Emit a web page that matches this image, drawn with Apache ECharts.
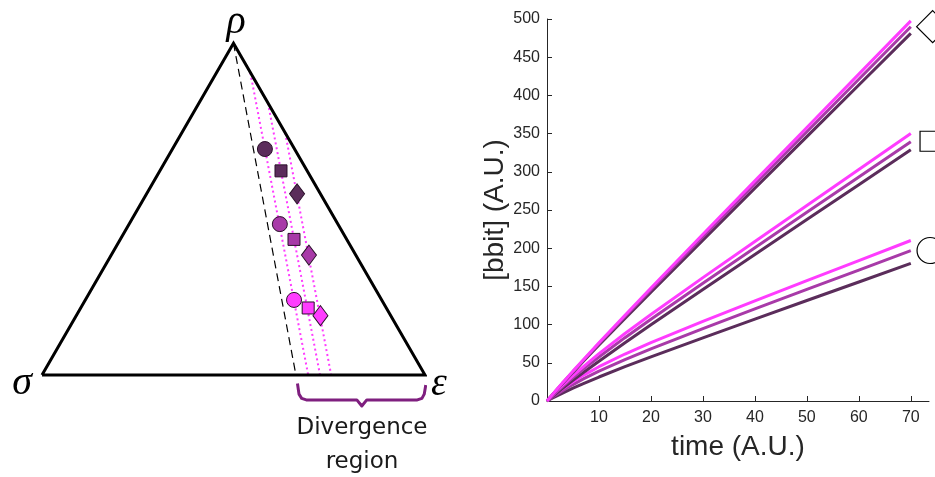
<!DOCTYPE html>
<html><head><meta charset="utf-8">
<script src="https://cdn.jsdelivr.net/npm/echarts@6/dist/echarts.min.js"></script>
<style>html,body{margin:0;padding:0;background:#fff}#c{width:935px;height:477px}</style>
</head><body><div id="c"></div>
<script>
// ---------- right panel data: [bbit] vs time ----------
const time = [0, 1, 2, 3, 5, 7, 10, 15, 20, 30, 40, 50, 60, 70];
const circleDark    = [0, 3.6, 7.1, 10.4, 16.8, 22.8, 31.4, 44.9, 57.8, 82.7, 107.1, 131.5, 155.8, 180.1];
const circleMid     = [0, 4.8, 9.3, 13.6, 21.5, 28.9, 39.0, 54.2, 68.2, 94.8, 120.5, 146.0, 171.4, 196.8];
const circleBright  = [0, 5.7, 11.0, 16.0, 25.2, 33.6, 44.9, 61.5, 76.5, 104.3, 131.0, 157.5, 183.8, 210.1];
const squareDark    = [0, 5.6, 11.1, 16.5, 27.0, 37.2, 52.1, 76.2, 99.7, 145.9, 191.7, 237.5, 283.2, 328.9];
const squareMid     = [0, 6.5, 12.8, 18.9, 30.5, 41.7, 57.6, 82.9, 107.1, 154.2, 200.7, 247.0, 293.2, 339.4];
const squareBright  = [0, 7.2, 14.0, 20.7, 33.3, 45.1, 62.0, 88.3, 113.3, 161.5, 208.9, 256.0, 303.0, 350.0];
const diamondDark   = [0, 7.7, 15.3, 22.8, 37.5, 52.0, 73.3, 108.2, 142.5, 210.6, 278.4, 346.0, 413.6, 481.2];
const diamondMid    = [0, 7.9, 15.7, 23.4, 38.5, 53.3, 75.1, 110.7, 145.7, 214.9, 283.7, 352.5, 421.2, 489.9];
const diamondBright = [0, 8.0, 16.0, 23.8, 39.1, 54.1, 76.2, 112.3, 147.9, 218.2, 288.1, 358.0, 427.8, 497.6];
const xTicks = [10, 20, 30, 40, 50, 60, 70];
const yTicks = [0, 50, 100, 150, 200, 250, 300, 350, 400, 450, 500];
// shape keys placed at the line ends: [time, value]
const keyDiamond = [[74.2, 490]];
const keySquare  = [[73.7, 340]];
const keyCircle  = [[73.7, 197]];

// ---------- left panel data: simplex diagram (unit equilateral triangle) ----------
const triangle = [[0, 0], [1, 0], [0.5, 0.866], [0, 0]];
const dashedLine = [[0.5, 0.866], [0.663, 0]];
const dotted1 = [[0.544, 0.789], [0.695, 0]];
const dotted2 = [[0.590, 0.710], [0.726, 0]];
const dotted3 = [[0.635, 0.632], [0.755, 0]];
// markers: dark, mid, bright
const circles  = [[0.582, 0.590], [0.621, 0.394], [0.658, 0.196]];
const squares  = [[0.624, 0.533], [0.658, 0.354], [0.695, 0.175]];
const diamonds = [[0.666, 0.473], [0.697, 0.313], [0.727, 0.155]];
const brace = [[0.667, -0.022], [0.671, -0.050], [0.678, -0.061], [0.690, -0.065], [0.822, -0.065], [0.835, -0.081],
               [0.848, -0.065], [0.980, -0.065], [0.992, -0.061], [0.998, -0.050], [1.002, -0.026]];
const vertexLabels = ['ρ', 'σ', 'ε'];
const regionLabel = ['Divergence', 'region'];

const DARK = '#5b2d5b', MID = '#a83aa8', BRIGHT = '#ff3cff';
const shades = [DARK, MID, BRIGHT];
const AX = '#262626';

function pairs(ys) { return time.map((t, i) => [t, ys[i]]); }
function curve(ys, color) {
  return { type: 'line', xAxisIndex: 1, yAxisIndex: 1, data: pairs(ys), showSymbol: false, symbol: 'none',
           lineStyle: { color: color, width: 3 }, z: 3, silent: true, animation: false };
}
function leftLine(data, style) {
  return { type: 'line', xAxisIndex: 0, yAxisIndex: 0, data: data, symbol: 'none', silent: true,
           animation: false, lineStyle: style, z: 2 };
}
function markers(pts, symbol, size) {
  return { type: 'scatter', xAxisIndex: 0, yAxisIndex: 0, symbol: symbol, symbolSize: size, animation: false,
           data: pts.map((p, i) => ({ value: p, itemStyle: { color: shades[i], opacity: 1, borderColor: '#2a102a', borderWidth: 1 } })),
           z: 5, silent: true };
}
function key(pts, symbol, size) {
  return { type: 'scatter', xAxisIndex: 1, yAxisIndex: 1, symbol: symbol, symbolSize: size, clip: false,
           data: pts, itemStyle: { color: '#fff', opacity: 1, borderColor: '#000', borderWidth: 1.2 }, z: 6, silent: true,
           animation: false };
}

const chart = echarts.init(document.getElementById('c'));
chart.setOption({
  backgroundColor: '#fff',
  animation: false,
  grid: [
    { left: 42, top: 30.3, width: 383, height: 421.3 },
    { left: 547, top: 19, width: 382, height: 382 }
  ],
  xAxis: [
    { gridIndex: 0, type: 'value', min: 0, max: 1, show: false },
    { gridIndex: 1, type: 'value', min: 0, max: 73.5, interval: 10,
      axisLine: { lineStyle: { color: AX, width: 1 } },
      axisTick: { inside: true, length: 5, lineStyle: { color: AX } },
      splitLine: { show: false },
      axisLabel: { color: AX, fontSize: 16, fontFamily: 'Liberation Sans, Arial', margin: 9,
                   formatter: v => (xTicks.indexOf(v) >= 0 ? String(v) : ''), showMaxLabel: false },
      name: 'time (A.U.)', nameLocation: 'middle', nameGap: 32,
      nameTextStyle: { color: AX, fontSize: 28, fontFamily: 'Liberation Sans, Arial' } }
  ],
  yAxis: [
    { gridIndex: 0, type: 'value', min: -0.2, max: 0.9, show: false },
    { gridIndex: 1, type: 'value', min: 0, max: 500, interval: 50,
      axisLine: { show: true, lineStyle: { color: AX, width: 1 } },
      axisTick: { show: true, inside: true, length: 5, lineStyle: { color: AX } },
      splitLine: { show: false },
      axisLabel: { color: AX, fontSize: 16, fontFamily: 'Liberation Sans, Arial', margin: 7,
                   formatter: v => (yTicks.indexOf(v) >= 0 ? String(v) : '') },
      name: '[bbit] (A.U.)', nameLocation: 'middle', nameGap: 36,
      nameTextStyle: { color: AX, fontSize: 28, fontFamily: 'Liberation Sans, Arial' } }
  ],
  series: [
    leftLine(dashedLine, { color: '#000', width: 1.2, type: [8, 5] }),
    leftLine(dotted1, { color: BRIGHT, width: 2, type: [2, 3] }),
    leftLine(dotted2, { color: BRIGHT, width: 2, type: [2, 3] }),
    leftLine(dotted3, { color: BRIGHT, width: 2, type: [2, 3] }),
    leftLine(triangle, { color: '#000', width: 3, join: 'miter' }),
    leftLine(brace, { color: '#7f1f7f', width: 3, join: 'round' }),
    markers(circles, 'circle', 15),
    markers(squares, 'rect', 12),
    markers(diamonds, 'diamond', [15, 20]),
    curve(circleDark, DARK), curve(circleMid, MID), curve(circleBright, BRIGHT),
    curve(squareDark, DARK), curve(squareMid, MID), curve(squareBright, BRIGHT),
    curve(diamondDark, DARK), curve(diamondMid, MID), curve(diamondBright, BRIGHT),
    key(keyDiamond, 'diamond', [32, 32]),
    key(keySquare, 'rect', 20),
    key(keyCircle, 'circle', 26)
  ],
  graphic: [
    { type: 'text', x: 236, y: 22, style: { text: vertexLabels[0], fontSize: 40, fontStyle: 'italic',
      fontFamily: 'Liberation Serif, serif', fill: '#000', align: 'center', verticalAlign: 'middle' } },
    { type: 'text', x: 22, y: 383, style: { text: vertexLabels[1], fontSize: 40, fontStyle: 'italic',
      fontFamily: 'Liberation Serif, serif', fill: '#000', align: 'center', verticalAlign: 'middle' } },
    { type: 'text', x: 439, y: 384, style: { text: vertexLabels[2], fontSize: 40, fontStyle: 'italic',
      fontFamily: 'Liberation Serif, serif', fill: '#000', align: 'center', verticalAlign: 'middle' } },
    { type: 'text', x: 362, y: 428, style: { text: regionLabel[0], fontSize: 23,
      fontFamily: 'DejaVu Sans', fill: '#1a1a1a', align: 'center', verticalAlign: 'middle' } },
    { type: 'text', x: 362, y: 462, style: { text: regionLabel[1], fontSize: 23,
      fontFamily: 'DejaVu Sans', fill: '#1a1a1a', align: 'center', verticalAlign: 'middle' } }
  ]
});
</script></body></html>
